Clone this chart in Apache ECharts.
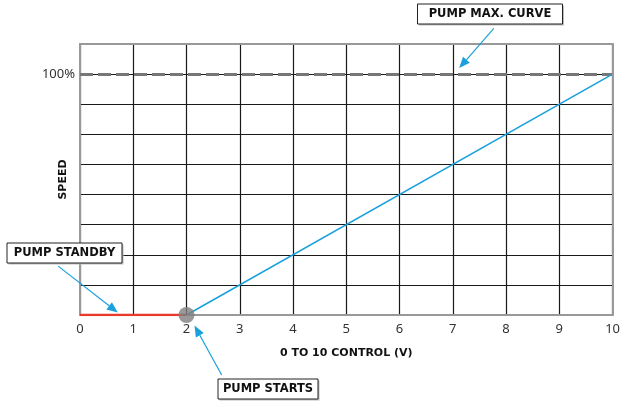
<!DOCTYPE html>
<html><head><meta charset="utf-8">
<script src="https://cdn.jsdelivr.net/npm/echarts@6/dist/echarts.min.js"></script>
<style>html,body{margin:0;padding:0;background:#fff}#c{width:623px;height:402px}</style>
</head><body><div id="c"></div>
<script>
// ---- data ----
const xTicks = [0,1,2,3,4,5,6,7,8,9,10];
const standbyX = [0, 2];
const standbyY = [0, 0];
const curveX = [2, 10];
const curveY = [0, 100];
const startPoint = [2, 0];
const maxSpeed = 100;
const yMax = 112.5, yStep = 12.5;
// annotations: label, arrow start [x,y] and tip [x,y] in data units
const notes = [
  {text:'PUMP MAX. CURVE', from:[7.77,119], to:[7.12,102.5]},
  {text:'PUMP STANDBY', from:[-0.41,20.3], to:[0.71,1.0]},
  {text:'PUMP STARTS', from:[2.66,-24.9], to:[2.15,-4.4]}
];

const chart = echarts.init(document.getElementById('c'), null, {renderer:'canvas'});
const grid = {left:80, right:9, top:44, bottom:87};
const tickFont = {fontFamily:'Noto Sans', fontSize:13, color:'#333'};
const titleFont = {fontFamily:'DejaVu Sans', fontWeight:'bold', fontSize:11, color:'#111'};

chart.setOption({
  animation:false,
  grid: grid,
  xAxis: [{
    type:'value', min:0, max:10, interval:1,
    name:'0 TO 10 CONTROL (V)', nameLocation:'middle', nameGap:33, nameMoveOverlap:false, nameTextStyle:titleFont,
    axisLine:{show:true, lineStyle:{color:'#999', width:2}},
    axisTick:{show:false},
    axisLabel:Object.assign({margin:8, formatter:v=>String(v)}, tickFont),
    splitLine:{show:true, lineStyle:{color:'#1a1a1a', width:1.2}}
  },{
    type:'value', min:0, max:10, position:'top', z:5,
    axisLine:{show:true, onZero:false, lineStyle:{color:'#999', width:2}},
    axisTick:{show:false}, axisLabel:{show:false}, splitLine:{show:false}
  }],
  yAxis: [{
    type:'value', min:0, max:yMax, interval:yStep,
    name:'SPEED', nameLocation:'middle', nameGap:11, nameMoveOverlap:false, nameRotate:90, nameTextStyle:titleFont,
    axisLine:{show:true, lineStyle:{color:'#999', width:2}},
    axisTick:{show:false},
    axisLabel:Object.assign({margin:5, formatter:v=> v===maxSpeed ? '100%' : ''}, tickFont),
    splitLine:{show:true, lineStyle:{color:'#1a1a1a', width:1.2}}
  },{
    type:'value', min:0, max:yMax, position:'right', z:5,
    axisLine:{show:true, onZero:false, lineStyle:{color:'#999', width:2}},
    axisTick:{show:false}, axisLabel:{show:false}, splitLine:{show:false}
  }],
  series: [
    {type:'line', data: curveX.map((x,i)=>[x,curveY[i]]), symbol:'none', z:4,
     lineStyle:{color:'#1aa0dc', width:1.5},
     markLine:{silent:true, symbol:'none', label:{show:false}, z:3,
       lineStyle:{color:'#777', type:[13,5], width:3, opacity:1},
       data:[{yAxis:maxSpeed}]}},
    {type:'line', data: standbyX.map((x,i)=>[x,standbyY[i]]), symbol:'none', z:4,
     lineStyle:{color:'#e8392a', width:2.5}},
    {type:'scatter', data:[startPoint], symbolSize:16, z:6,
     itemStyle:{color:'#808080'}}
  ]
});

// annotations drawn from data-space anchors
const gfx = [];
const boxes = [
  {cx:490, cy:14, w:145, h:20},
  {cx:64.5, cy:253, w:115, h:20},
  {cx:268, cy:389, w:100, h:20}
];
notes.forEach((n,i)=>{
  const a = chart.convertToPixel({gridIndex:0}, n.from);
  const b = chart.convertToPixel({gridIndex:0}, n.to);
  const dx=b[0]-a[0], dy=b[1]-a[1], L=Math.hypot(dx,dy), ux=dx/L, uy=dy/L;
  const hl=11, hw=4.5;
  const base=[b[0]-ux*hl, b[1]-uy*hl];
  gfx.push({type:'line', shape:{x1:a[0],y1:a[1],x2:base[0],y2:base[1]}, style:{stroke:'#1aa0dc', lineWidth:1.2}, z:20});
  gfx.push({type:'polygon', shape:{points:[b,[base[0]-uy*hw, base[1]+ux*hw],[base[0]+uy*hw, base[1]-ux*hw]]}, style:{fill:'#1aa0dc'}, z:20});
  const bx = boxes[i];
  gfx.push({type:'rect', shape:{x:bx.cx-bx.w/2+1.5, y:bx.cy-bx.h/2+1.5, width:bx.w, height:bx.h}, style:{fill:'#bbb'}, z:20});
  gfx.push({type:'rect', shape:{x:bx.cx-bx.w/2, y:bx.cy-bx.h/2, width:bx.w, height:bx.h}, style:{fill:'#fff', stroke:'#222', lineWidth:1}, z:21});
  gfx.push({type:'text', x:bx.cx, y:bx.cy, style:{text:n.text, fill:'#111', font:'bold 11.5px "DejaVu Sans"', textAlign:'center', textVerticalAlign:'middle'}, z:22});
});
chart.setOption({graphic: gfx});
</script>
</body></html>
